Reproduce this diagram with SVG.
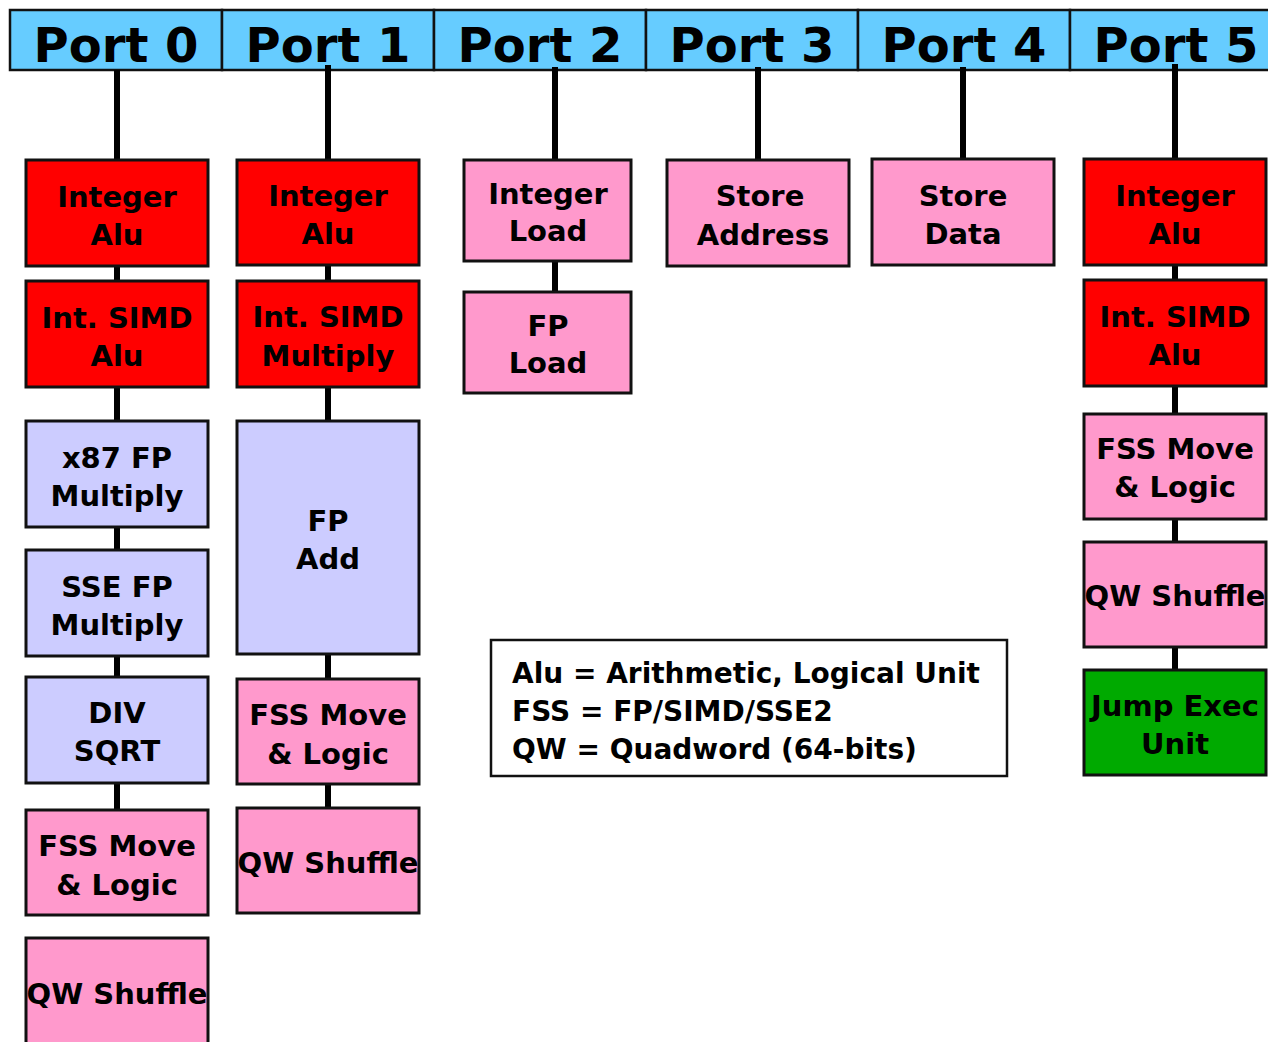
<svg xmlns="http://www.w3.org/2000/svg" width="1268" height="1042" viewBox="0 0 1268 1042">
<style>
.port{fill:#66ccff;stroke:#111;stroke-width:2.5}
.pt{font-family:"DejaVu Sans",Verdana,sans-serif;font-weight:bold;font-size:48px;text-anchor:middle;fill:#000}
.box{stroke:#111;stroke-width:3}
.red{fill:#ff0000}.pink{fill:#ff99cc}.lav{fill:#ccccff}.grn{fill:#00aa00}
.t{font-family:"DejaVu Sans",Verdana,sans-serif;font-weight:bold;font-size:29px;text-anchor:middle;fill:#000}
.lg{font-family:"DejaVu Sans",Verdana,sans-serif;font-weight:bold;font-size:28px;fill:#000}
.c{stroke:#000;stroke-width:6;fill:none}
</style>
<rect width="1268" height="1042" fill="#fff"/>
<g id="ports">
<rect class="port" x="10" y="10" width="212" height="60"/>
<rect class="port" x="222" y="10" width="212" height="60"/>
<rect class="port" x="434" y="10" width="212" height="60"/>
<rect class="port" x="646" y="10" width="212" height="60"/>
<rect class="port" x="858" y="10" width="212" height="60"/>
<rect class="port" x="1070" y="10" width="212" height="60"/>
<text class="pt" x="116" y="62">Port 0</text>
<text class="pt" x="328" y="62">Port 1</text>
<text class="pt" x="540" y="62">Port 2</text>
<text class="pt" x="752" y="62">Port 3</text>
<text class="pt" x="964" y="62">Port 4</text>
<text class="pt" x="1176" y="62">Port 5</text>
</g>
<g id="connectors">
<line class="c" x1="117" y1="70" x2="117" y2="160"/>
<line class="c" x1="117" y1="266" x2="117" y2="281"/>
<line class="c" x1="117" y1="387" x2="117" y2="421"/>
<line class="c" x1="117" y1="527" x2="117" y2="550"/>
<line class="c" x1="117" y1="656" x2="117" y2="677"/>
<line class="c" x1="117" y1="783" x2="117" y2="810"/>
<line class="c" x1="328" y1="65" x2="328" y2="160"/>
<line class="c" x1="328" y1="265" x2="328" y2="281"/>
<line class="c" x1="328" y1="387" x2="328" y2="421"/>
<line class="c" x1="328" y1="654" x2="328" y2="679"/>
<line class="c" x1="328" y1="784" x2="328" y2="808"/>
<line class="c" x1="555" y1="67" x2="555" y2="160"/>
<line class="c" x1="555" y1="261" x2="555" y2="292"/>
<line class="c" x1="758" y1="67" x2="758" y2="160"/>
<line class="c" x1="963" y1="67" x2="963" y2="159"/>
<line class="c" x1="1175" y1="64" x2="1175" y2="159"/>
<line class="c" x1="1175" y1="265" x2="1175" y2="280"/>
<line class="c" x1="1175" y1="386" x2="1175" y2="414"/>
<line class="c" x1="1175" y1="519" x2="1175" y2="542"/>
<line class="c" x1="1175" y1="647" x2="1175" y2="670"/>
</g>
<g id="p0-int-alu"><rect class="box red" x="26" y="160" width="182" height="106"/><text class="t" x="117" y="207">Integer</text><text class="t" x="117" y="245">Alu</text></g>
<g id="p0-simd-alu"><rect class="box red" x="26" y="281" width="182" height="106"/><text class="t" x="117" y="328">Int. SIMD</text><text class="t" x="117" y="366">Alu</text></g>
<g id="p0-x87-mul"><rect class="box lav" x="26" y="421" width="182" height="106"/><text class="t" x="117" y="468">x87 FP</text><text class="t" x="117" y="506">Multiply</text></g>
<g id="p0-sse-mul"><rect class="box lav" x="26" y="550" width="182" height="106"/><text class="t" x="117" y="597">SSE FP</text><text class="t" x="117" y="635">Multiply</text></g>
<g id="p0-div"><rect class="box lav" x="26" y="677" width="182" height="106"/><text class="t" x="117" y="723">DIV</text><text class="t" x="117" y="761">SQRT</text></g>
<g id="p0-fss"><rect class="box pink" x="26" y="810" width="182" height="105"/><text class="t" x="117" y="856">FSS Move</text><text class="t" x="117" y="895">&amp; Logic</text></g>
<g id="p0-qw"><rect class="box pink" x="26" y="938" width="182" height="108"/><text class="t" x="117" y="1004">QW Shuffle</text></g>
<g id="p1-int-alu"><rect class="box red" x="237" y="160" width="182" height="105"/><text class="t" x="328" y="206">Integer</text><text class="t" x="328" y="244">Alu</text></g>
<g id="p1-simd-mul"><rect class="box red" x="237" y="281" width="182" height="106"/><text class="t" x="328" y="327">Int. SIMD</text><text class="t" x="328" y="366">Multiply</text></g>
<g id="p1-fp-add"><rect class="box lav" x="237" y="421" width="182" height="233"/><text class="t" x="328" y="531">FP</text><text class="t" x="328" y="569">Add</text></g>
<g id="p1-fss"><rect class="box pink" x="237" y="679" width="182" height="105"/><text class="t" x="328" y="725">FSS Move</text><text class="t" x="328" y="764">&amp; Logic</text></g>
<g id="p1-qw"><rect class="box pink" x="237" y="808" width="182" height="105"/><text class="t" x="328" y="873">QW Shuffle</text></g>
<g id="p2-int-load"><rect class="box pink" x="464" y="160" width="167" height="101"/><text class="t" x="548" y="204">Integer</text><text class="t" x="548" y="241">Load</text></g>
<g id="p2-fp-load"><rect class="box pink" x="464" y="292" width="167" height="101"/><text class="t" x="548" y="336">FP</text><text class="t" x="548" y="373">Load</text></g>
<g id="p3-store-addr"><rect class="box pink" x="667" y="160" width="182" height="106"/><text class="t" x="760" y="206">Store</text><text class="t" x="763" y="245">Address</text></g>
<g id="p4-store-data"><rect class="box pink" x="872" y="159" width="182" height="106"/><text class="t" x="963" y="206">Store</text><text class="t" x="963" y="244">Data</text></g>
<g id="p5-int-alu"><rect class="box red" x="1084" y="159" width="182" height="106"/><text class="t" x="1175" y="206">Integer</text><text class="t" x="1175" y="244">Alu</text></g>
<g id="p5-simd-alu"><rect class="box red" x="1084" y="280" width="182" height="106"/><text class="t" x="1175" y="327">Int. SIMD</text><text class="t" x="1175" y="365">Alu</text></g>
<g id="p5-fss"><rect class="box pink" x="1084" y="414" width="182" height="105"/><text class="t" x="1175" y="459">FSS Move</text><text class="t" x="1175" y="497">&amp; Logic</text></g>
<g id="p5-qw"><rect class="box pink" x="1084" y="542" width="182" height="105"/><text class="t" x="1175" y="606">QW Shuffle</text></g>
<g id="p5-jump"><rect class="box grn" x="1084" y="670" width="182" height="105"/><text class="t" x="1175" y="716">Jump Exec</text><text class="t" x="1175" y="754">Unit</text></g>
<g id="legend">
<rect x="491" y="640" width="516" height="136" fill="#fff" stroke="#111" stroke-width="2.5"/>
<text class="lg" x="512" y="683">Alu = Arithmetic, Logical Unit</text>
<text class="lg" x="512" y="721">FSS = FP/SIMD/SSE2</text>
<text class="lg" x="512" y="759">QW = Quadword (64-bits)</text>
</g>
</svg>
